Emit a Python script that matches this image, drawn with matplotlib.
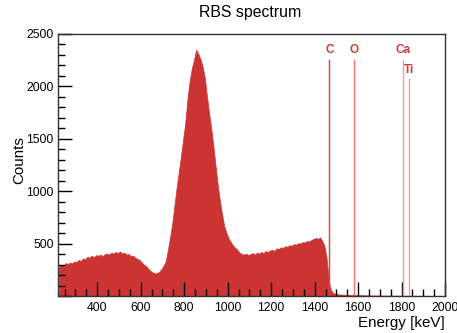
import numpy as np
import matplotlib
matplotlib.use("Agg")
import matplotlib.pyplot as plt
from matplotlib.ticker import MultipleLocator, FuncFormatter

plt.rcParams['font.family'] = ['Liberation Sans', 'DejaVu Sans']

# Histogram: counts per 10 keV bin, starting at 220 keV
bin_start = 220
bin_width = 10
counts = [
    # 220-290
    280, 300, 290, 315, 305, 320, 310, 330,
    # 300-390
    325, 345, 335, 360, 350, 375, 365, 385, 370, 390,
    # 400-490
    385, 395, 380, 400, 405, 395, 415, 405, 420, 410,
    # 500-590
    425, 405, 415, 395, 400, 380, 385, 365, 355, 345,
    # 600-690
    320, 300, 285, 260, 240, 225, 215, 220, 230, 255,
    # 700-790
    290, 330, 440, 560, 690, 860, 1030, 1180, 1330, 1490,
    # 800-890
    1650, 1880, 2050, 2170, 2250, 2350, 2310, 2260, 2190, 2080,
    # 900-990
    1900, 1740, 1590, 1420, 1230, 1050, 900, 770, 660, 600,
    # 1000-1090
    545, 515, 480, 460, 440, 415, 400, 395, 405, 390,
    # 1100-1190
    400, 410, 395, 415, 405, 420, 410, 430, 420, 435,
    # 1200-1290
    440, 430, 455, 450, 465, 460, 475, 470, 485, 480,
    # 1300-1390
    495, 490, 505, 500, 515, 510, 525, 520, 535, 545,
    # 1400-1490
    555, 545, 560, 525, 480, 360, 140, 55, 30, 22,
    # 1500-1590
    18, 15, 14, 12, 13, 11, 10, 12, 9, 8,
    # 1600-1990
    8, 7, 8, 6, 7, 6, 5, 6, 5, 5,
    5, 4, 5, 4, 4, 5, 3, 4, 4, 3,
    3, 4, 3, 3, 2, 3, 3, 2, 3, 2,
    2, 3, 2, 2, 2, 1, 2, 2, 1, 2,
]

# Element markers
elements = ["C", "O", "Ca", "Ti"]
element_energy = [1468, 1582, 1807, 1833]
element_top = [2250, 2250, 2250, 2070]
label_y = [2345, 2345, 2345, 2160]
line_colors = ["#e8393d", "#ff6f6f", "#ff9494", "#ff9494"]
label_color = "#d03a3a"

centers = bin_start + bin_width * (np.arange(len(counts)) + 0.5)

fig = plt.figure(figsize=(4.57, 3.33), dpi=100)
ax = fig.add_axes([0.127, 0.111, 0.847, 0.787])

ax.fill_between(centers, 0, counts, facecolor="#cc3333",
                edgecolor="#cc3333", linewidth=0.5)

for name, e, top, ly, c in zip(elements, element_energy, element_top, label_y, line_colors):
    ax.plot([e, e], [0, top], color=c, linewidth=1.0)
    ax.text(e, ly, name, color=label_color, fontsize=8.5, fontweight='bold',
            ha='center', va='center')

ax.set_xlim(220, 2000)
ax.set_ylim(0, 2500)

ax.xaxis.set_major_locator(MultipleLocator(200))
ax.xaxis.set_minor_locator(MultipleLocator(50))
ax.yaxis.set_major_locator(MultipleLocator(500))
ax.yaxis.set_minor_locator(MultipleLocator(100))
ax.yaxis.set_major_formatter(FuncFormatter(lambda v, p: "" if v == 0 else f"{v:.0f}"))
ax.tick_params(axis='both', which='both', direction='in', labelsize=8.8,
               top=False, right=False, color='black')
ax.tick_params(axis='both', which='major', length=10, width=1)
ax.tick_params(axis='both', which='minor', length=5, width=1)
ax.tick_params(axis='x', pad=4)
ax.tick_params(axis='y', pad=3)

for s in ax.spines.values():
    s.set_color('#333333')
    s.set_linewidth(1.0)

fig.text(0.547, 0.962, "RBS spectrum", ha='center', va='center', fontsize=11.4)
ax.set_xlabel("Energy [keV]", fontsize=10.9, loc='right', labelpad=2)
fig.text(0.042, 0.52, "Counts", rotation=90, ha='center', va='center', fontsize=10.9)

fig.savefig("out.png", dpi=100)
